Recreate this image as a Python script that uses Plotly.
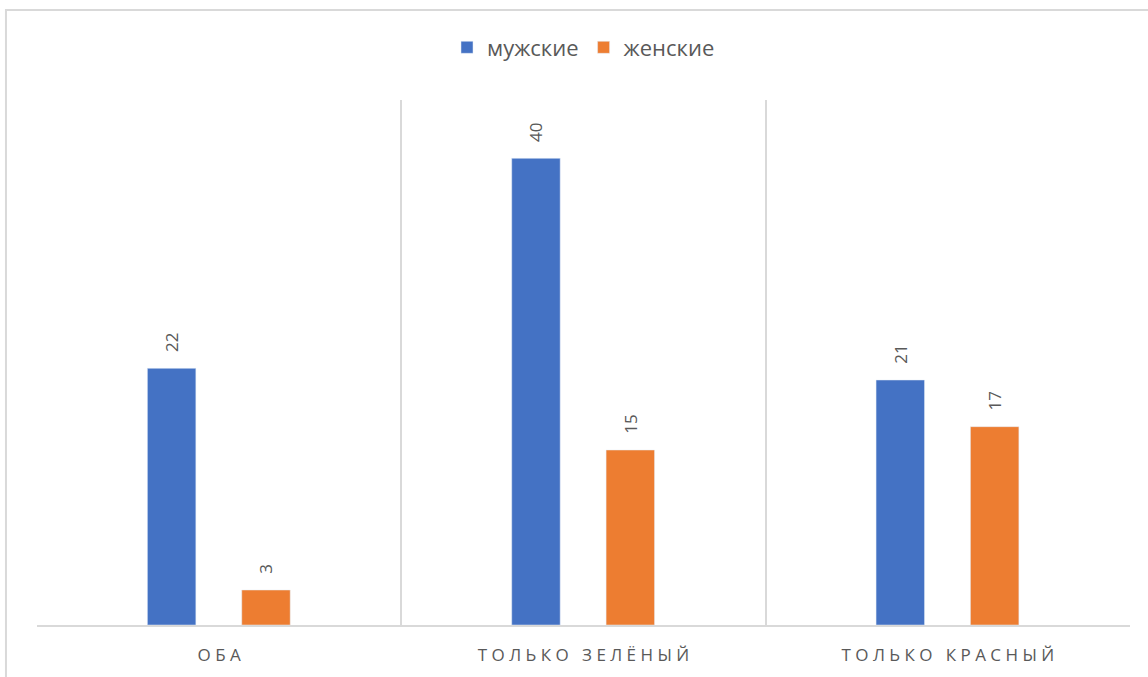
import plotly.graph_objects as go

categories = ["О Б А", "Т О Л Ь К О   З Е Л Ё Н Ы Й", "Т О Л Ь К О   К Р А С Н Ы Й"]
male = [22, 40, 21]
female = [3, 15, 17]
series_names = ["мужские", "женские"]
colors = ["#4472C4", "#ED7D31"]

pad = "\u00a0\u00a0\u00a0"

fig = go.Figure()
fig.add_trace(go.Bar(
    x=categories, y=male, name=series_names[0], marker_color=colors[0],
    width=0.133, offset=-0.197,
    text=[pad + str(v) for v in male], textposition="outside", textangle=-90,
    textfont=dict(color="#595959", size=17, family="Open Sans"),
    cliponaxis=False,
))
fig.add_trace(go.Bar(
    x=categories, y=female, name=series_names[1], marker_color=colors[1],
    width=0.133, offset=0.062,
    text=[pad + str(v) for v in female], textposition="outside", textangle=-90,
    textfont=dict(color="#595959", size=17, family="Open Sans"),
    cliponaxis=False,
))

fig.update_layout(
    width=1148, height=677,
    margin=dict(l=37, r=18, t=100, b=52),
    paper_bgcolor="white", plot_bgcolor="white",
    font=dict(family="Open Sans", color="#595959"),
    barmode="group",
    showlegend=True,
    legend=dict(orientation="h", x=0.5, xanchor="center", y=1.10, yanchor="middle",
                font=dict(size=22, color="#595959"), itemwidth=30,
                traceorder="normal"),
    xaxis=dict(
        tickson="boundaries", showgrid=True, gridcolor="#d9d9d9", gridwidth=1.5,
        showline=True, linecolor="#d9d9d9", linewidth=1.5,
        ticks="", tickfont=dict(size=17, color="#595959"),
        ticklabelstandoff=14,
        range=[-0.5, 2.5],
    ),
    yaxis=dict(
        range=[0, 45], showgrid=False, showticklabels=False, zeroline=False,
        showline=False, ticks="",
    ),
)

# outer chart border (light grey frame)
fig.add_shape(type="rect", xref="paper", yref="paper",
              x0=-0.0284, x1=1.2, y0=-0.3, y1=1.1714,
              line=dict(color="#d9d9d9", width=2), fillcolor="rgba(0,0,0,0)",
              layer="below")

fig.write_html("out.html")
